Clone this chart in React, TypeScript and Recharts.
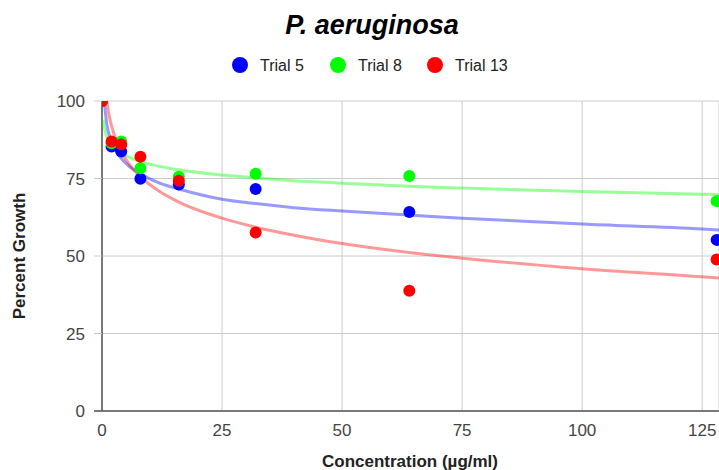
import React from "react";
import { ScatterChart, Scatter, XAxis, YAxis, CartesianGrid } from "recharts";

// ---- data ----
const concentrations = [0, 2, 4, 8, 16, 32, 64, 128];
const trial5 = [100, 85.3, 83.7, 74.9, 73.1, 71.6, 64.2, 55.2];
const trial8 = [100, 86.4, 86.9, 78.3, 75.6, 76.5, 75.8, 67.7];
const trial13 = [100, 86.9, 86.0, 82.0, 74.3, 57.6, 38.8, 48.9];

// trendlines
const trend5X = [0.5, 1, 2, 4, 6, 8, 12, 16, 25, 32, 40, 50, 64, 75, 100, 125, 128.5];
const trend5Y = [99.5, 92.5, 87, 81.5, 78.5, 76.5, 73.5, 71.6, 68.3, 66.9, 65.6, 64.5, 63.2, 62.2, 60.3, 58.7, 58.4];
const trend8X = [0.27, 0.5, 1, 2, 4, 8, 16, 25, 32, 40, 50, 64, 75, 100, 125, 128.5];
const trend8Y = [93.9, 91.2, 88.5, 85.8, 83.2, 80.5, 77.8, 76.1, 75.2, 74.3, 73.5, 72.5, 71.9, 70.8, 69.9, 69.8];
const trend13X = [1, 1.5, 2, 3, 4, 6, 8, 12, 16, 25, 32, 40, 50, 64, 75, 100, 125, 128.5];
const trend13Y = [100, 95.2, 91.9, 87.1, 83.7, 78.9, 75.6, 70.8, 67.4, 62.2, 59.3, 56.7, 54.0, 51.1, 49.3, 45.9, 43.3, 42.9];

const seriesNames = ["Trial 5", "Trial 8", "Trial 13"];
const xTicks = [0, 25, 50, 75, 100, 125];
const yTicks = [0, 25, 50, 75, 100];
const chartTitle = "P. aeruginosa";
const xTitle = "Concentration (\u00b5g/ml)";
const yTitle = "Percent Growth";

// ---- styling ----
const colors = ["#0000ff", "#00ff00", "#ff0000"];
const FONT = "'Liberation Sans', Arial, sans-serif";

const toPoints = (xs: number[], ys: number[]) => xs.map((x, i) => ({ x, y: ys[i] }));

const pointSeries = [trial5, trial8, trial13].map((ys) => toPoints(concentrations, ys));
const trendSeries = [
  toPoints(trend5X, trend5Y),
  toPoints(trend8X, trend8Y),
  toPoints(trend13X, trend13Y),
];

const dot = (color: string) => (props: any) => (
  <circle cx={props.cx} cy={props.cy} r={6} fill={color} />
);
const noDot = () => <g />;

const legendX = [240, 338, 435];

export default function App() {
  return (
    <div style={{ position: "absolute", left: 0, top: 0, width: 719, height: 470, fontFamily: FONT, background: "#fff" }}>
      <ScatterChart width={719} height={470} margin={{ top: 101, right: 0, bottom: 0, left: 0 }}>
        <CartesianGrid stroke="#cccccc" strokeWidth={1} />
        <XAxis
          type="number"
          dataKey="x"
          domain={[0, 128.5]}
          ticks={xTicks}
          height={59}
          tickLine={false}
          tickSize={0}
          tickMargin={13}
          axisLine={{ stroke: "#555555", strokeWidth: 1.5 }}
          tick={{ fill: "#444444", fontSize: 17, fontFamily: FONT }}
          allowDataOverflow
        />
        <YAxis
          type="number"
          dataKey="y"
          domain={[0, 100]}
          ticks={yTicks}
          width={102}
          tickSize={8}
          tickMargin={9}
          tickLine={{ stroke: "#cccccc" }}
          axisLine={{ stroke: "#555555", strokeWidth: 1.5 }}
          tick={{ fill: "#444444", fontSize: 17, fontFamily: FONT }}
          allowDataOverflow
        />
        {trendSeries.map((d, i) => (
          <Scatter
            key={"t" + i}
            data={d}
            line={{ stroke: colors[i], strokeWidth: 3, strokeOpacity: 0.4 }}
            lineJointType="monotoneX"
            shape={noDot}
            isAnimationActive={false}
          />
        ))}
        {pointSeries.map((d, i) => (
          <Scatter
            key={"p" + i}
            name={seriesNames[i]}
            data={d}
            fill={colors[i]}
            shape={dot(colors[i])}
            isAnimationActive={false}
          />
        ))}
      </ScatterChart>
      <svg
        width={719}
        height={470}
        style={{ position: "absolute", left: 0, top: 0, pointerEvents: "none" }}
      >
        <line x1={94} y1={411} x2={102} y2={411} stroke="#555555" strokeWidth={1.5} />
        <text x={372} y={34} textAnchor="middle" fontSize={27} fontWeight="bold" fontStyle="italic" fill="#000" fontFamily={FONT}>
          {chartTitle}
        </text>
        {seriesNames.map((n, i) => (
          <g key={n}>
            <circle cx={legendX[i]} cy={65} r={8} fill={colors[i]} />
            <text x={legendX[i] + 20} y={71} fontSize={16} fill="#222222" fontFamily={FONT}>
              {n}
            </text>
          </g>
        ))}
        <text x={410} y={467} textAnchor="middle" fontSize={17} fontWeight="bold" fill="#222222" fontFamily={FONT}>
          {xTitle}
        </text>
        <text
          x={0}
          y={0}
          transform="translate(25,256) rotate(-90)"
          textAnchor="middle"
          fontSize={17}
          fontWeight="bold"
          fill="#222222"
          fontFamily={FONT}
        >
          {yTitle}
        </text>
      </svg>
    </div>
  );
}
